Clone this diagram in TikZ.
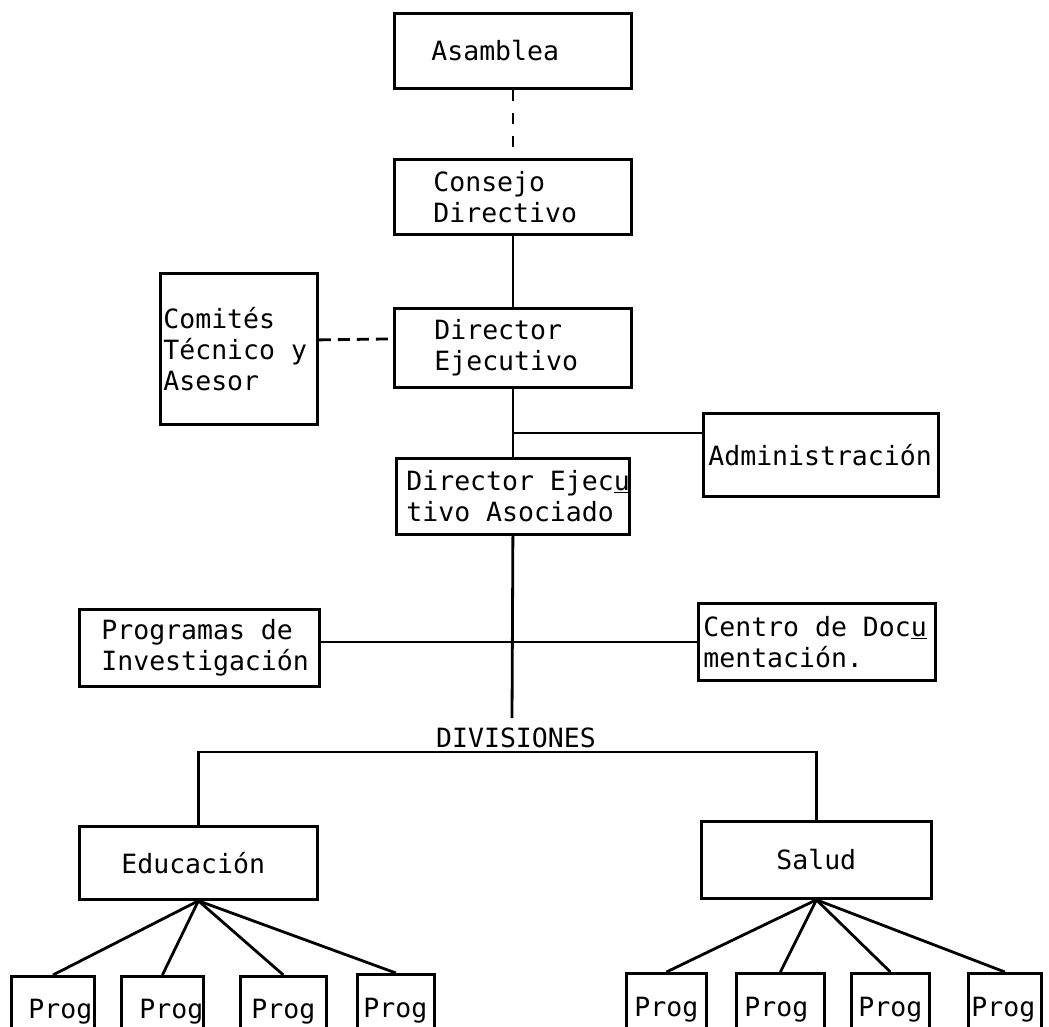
\documentclass[tikz,border=0pt]{standalone}
\usepackage{fontspec}
\setmonofont{DejaVu Sans Mono}
\newcommand\maquina{\ttfamily\fontsize{26.5}{31}\selectfont}
\tikzset{
  caja/.style={draw, line width=2.8pt, anchor=north west, align=flush left, inner ysep=0pt,
    font=\maquina, execute at begin node={\spaceskip=15.95pt\relax}},
  linea/.style={line width=2.8pt},
  rayas/.style={line width=2.8pt, dash pattern=on 11pt off 12pt},
}
\begin{document}
\begin{tikzpicture}[x=1pt,y=-1pt]
				\useasboundingbox (0,0) rectangle (1049,1027);
				\clip (0,0) rectangle (1049,1027);
				% cajas superiores
				\node[caja, inner xsep=37pt, text width=163pt, minimum height=75pt] (asam) at (393,12) {Asamblea};
				\node[caja, inner xsep=39pt, text width=159pt, minimum height=75pt] (cons) at (393,158) {Consejo\\Directivo};
				\node[caja, inner xsep=40pt, text width=157pt, minimum height=79pt] (dir) at (393,307) {Director\\Ejecutivo};
				\node[caja, inner xsep=3pt, text width=151pt, minimum height=151pt] (com) at (159,272) {Comités\\Técnico y\\Asesor};
				\node[caja, inner xsep=5pt, text width=225pt, minimum height=83pt] (adm) at (702,412) {Administración};
				\node[caja, inner xsep=10pt, text width=213pt, minimum height=76pt] (dea) at (395,457) {Director~Ejec\underline{u}\\tivo~Asociado};
				\node[caja, inner xsep=22pt, text width=196pt, minimum height=77pt] (inv) at (78,608) {Programas de\\Investigación};
				\node[caja, inner xsep=5pt, text width=227pt, minimum height=77pt] (cdoc) at (697,602) {Centro~de~Doc\underline{u}\\mentación.};
				% divisiones
				\node[anchor=south, inner sep=4pt, font=\maquina] (divs) at (516,752) {DIVISIONES};
				\node[caja, inner xsep=42pt, text width=154pt, minimum height=73pt] (edu) at (78,825) {Educación};
				\node[caja, inner xsep=75pt, text width=80pt, minimum height=77pt] (sal) at (700,820) {Salud};
				% programas
				\node[caja, inner xsep=17pt, text width=49pt, minimum height=70pt] (p1) at (10,975) {Prog};
				\node[caja, inner xsep=18pt, text width=46pt, minimum height=70pt] (p2) at (120,975) {Prog};
				\node[caja, inner xsep=11pt, text width=64pt, minimum height=70pt] (p3) at (239,975) {Prog};
				\node[caja, inner xsep=6pt, text width=65pt, minimum height=72pt] (p4) at (356,973) {Prog};
				\node[caja, inner xsep=8pt, text width=64pt, minimum height=73pt] (q1) at (625,972) {Prog};
				\node[caja, inner xsep=8pt, text width=72pt, minimum height=73pt] (q2) at (735,972) {Prog};
				\node[caja, inner xsep=7pt, text width=64pt, minimum height=73pt] (q3) at (850,972) {Prog};
				\node[caja, inner xsep=3pt, text width=67pt, minimum height=73pt] (q4) at (967,972) {Prog};
				% conexiones
				\coordinate (j) at (512,433);
				\coordinate (trunk) at (512,718);
				\draw[rayas] (asam.south) -- (cons.north);
				\draw[linea] (cons.south) -- (dir.north);
				\draw[rayas, dash pattern=on 12pt off 7pt] ([yshift=9pt]com.east) -- ([yshift=9pt]dir.west);
				\draw[linea] (dir.south) -- (dea.north);
				\draw[linea] (j) -- (j -| adm.west);
				\draw[linea] (dea.south) -- (trunk);
				\draw[linea] (inv.east |- cdoc.west) -- (cdoc.west);
				\draw[linea] (edu.north) |- (divs.south) -| (sal.north);
				\draw[linea] (edu.south) -- (p1.north);
				\draw[linea] (edu.south) -- (p2.north);
				\draw[linea] (edu.south) -- (p3.north);
				\draw[linea] (edu.south) -- (p4.north);
				\draw[linea] (sal.south) -- (q1.north);
				\draw[linea] (sal.south) -- (q2.north);
				\draw[linea] (sal.south) -- (q3.north);
				\draw[linea] (sal.south) -- (q4.north);
			\end{tikzpicture}
\end{document}
